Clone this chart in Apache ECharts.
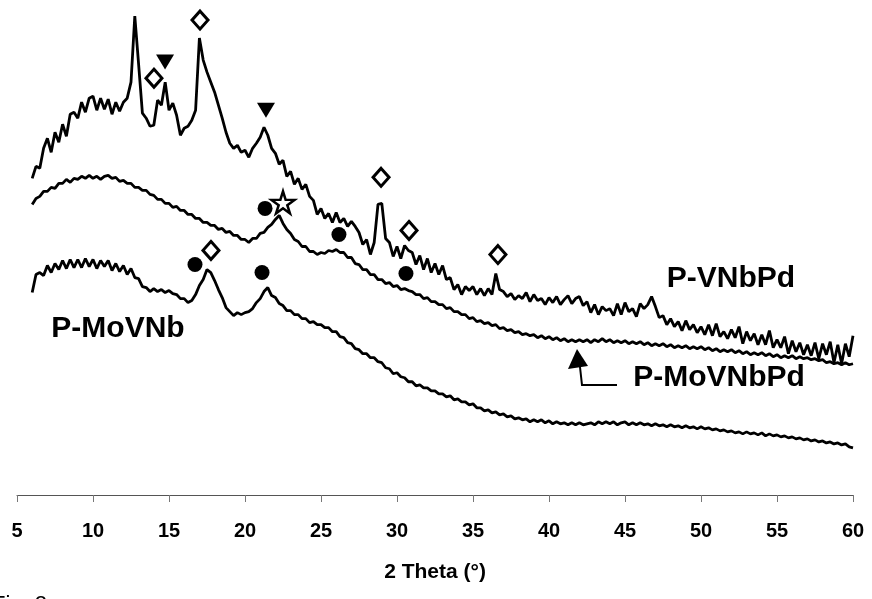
<!DOCTYPE html>
<html><head><meta charset="utf-8">
<script src="https://cdn.jsdelivr.net/npm/echarts@6/dist/echarts.min.js"></script>
<style>html,body{margin:0;padding:0;background:#fff}#c{width:872px;height:599px}</style>
</head><body><div id="c"></div>
<script>
// 2-theta sampling grid (degrees): 6.00 .. 60.00 every 0.25
const thetaStart = 6, thetaStep = 0.25;
const xTicks = [5,10,15,20,25,30,35,40,45,50,55,60];

// P-VNbPd (top trace), 4 values per degree
const pVNbPd = [
 316,328,326,346, 356,342,362,352, 370,358,380,382, 376,392,382,396, // 6-9
 398,384,396,385, 395,380,392,383, 392,396,412,478, 430,381,376,368, // 10-13
 369,394,389,412, 384,391,379,359, 366,368,374,384, 456,434,422,412, // 14-17
 402,389,376,362, 351,346,349,342, 344,337,346,351, 357,367,359,346, // 18-21
 341,330,334,318, 323,310,316,305, 310,298,294,280, 286,276,281,272, // 22-25
 282,272,276,268, 273,268,262,250, 255,240,252,290, 291,256,252,238, // 26-29
 248,236,249,244, 242,230,239,225, 236,222,231,220, 229,215,217,205, // 30-33
 210,200,208,204, 208,200,206,199, 206,200,221,205, 203,198,201,195, // 34-37
 199,196,202,193, 200,194,196,190, 197,192,198,190, 195,199,191,196, // 38-41
 198,189,193,182, 190,180,188,184, 186,179,191,180, 192,183,186,178, // 42-45
 191,186,190,198, 188,177,179,170, 176,168,173,164, 174,165,170,162, // 46-49
 168,160,170,159, 171,158,163,156, 165,157,168,151, 163,154,161,150, // 50-53
 160,150,164,147, 155,147,158,141, 154,143,152,140, 150,139,152,136, // 54-57
 151,140,153,132, 150,131,151,138, 159                              // 58-60
];

// P-MoVNbPd (middle trace)
const pMoVNbPd = [
 290,296,298,303, 303,307,306,311, 311,315,312,316, 315,318,316,319, // 6-9
 316,318,315,318, 319,316,317,313, 314,311,311,307, 307,304,304,300, // 10-13
 299,295,295,291, 291,287,288,284, 284,280,280,276, 276,272,272,269, // 14-17
 269,265,266,262, 263,259,259,255, 255,252,256,256, 261,262,267,270, // 18-21
 275,279,271,265, 261,255,253,248, 248,243,243,240, 242,241,244,243, // 22-25
 245,242,242,237, 237,231,230,225, 225,220,220,215, 215,211,212,208, // 26-29
 209,205,206,204, 203,200,200,196, 197,193,193,190, 190,186,187,183, // 30-33
 183,180,180,176, 177,173,174,171, 172,169,170,166, 167,164,165,162, // 34-37
 163,160,161,159, 160,157,159,156, 158,155,157,154, 156,153,155,153, // 38-41
 155,153,155,152, 155,153,156,153, 155,152,154,152, 154,151,153,151, // 42-45
 153,150,152,149, 151,149,151,148, 150,147,149,147, 149,146,148,146, // 46-49
 148,145,147,144, 146,143,145,143, 145,142,144,141, 143,140,142,140, // 50-53
 142,139,141,138, 140,137,139,137, 139,136,138,136, 137,135,136,134, // 54-57
 135,132,133,131, 132,130,132,130, 131                              // 58-60
];

// P-MoVNb (bottom trace)
const pMoVNb = [
 202,220,222,219, 229,222,231,225, 234,226,235,227, 235,227,236,228, // 6-9
 235,226,234,228, 234,224,231,223, 229,220,226,217, 216,208,207,203, // 10-13
 206,203,205,202, 204,201,200,196, 196,192,194,200, 209,215,225,222, // 14-17
 214,205,197,187, 183,179,182,180, 182,183,186,192, 196,203,207,199, // 18-21
 197,191,189,184, 184,180,180,176, 176,172,173,170, 170,167,167,163, // 22-25
 163,158,157,152, 151,146,145,141, 141,137,137,133, 132,127,126,121, // 26-29
 122,118,117,113, 113,109,110,107, 107,104,104,101, 101,98,99,95,    // 30-33
 96,93,93,90, 91,87,87,84, 85,82,83,80, 81,78,79,76,                 // 34-37
 77,75,76,73, 75,73,75,72, 74,71,73,71, 72,70,72,70,                 // 38-41
 72,70,71,72, 70,73,71,73, 71,73,70,72, 73,70,72,70,                 // 42-45
 72,70,71,69, 71,69,70,68, 70,68,69,67, 69,67,68,66,                 // 46-49
 68,66,67,65, 66,64,65,63, 64,62,63,61, 63,61,62,60,                 // 50-53
 62,59,61,59, 60,58,59,57, 58,56,57,55, 56,54,55,53,                 // 54-57
 54,52,53,51, 52,50,51,48, 47                                        // 58-60
];

// Phase markers [2theta, intensity]
const diamondMarks  = [[17.04,474],[14.01,416],[28.95,317],[30.79,264],[36.64,240],[17.76,244]];
const triangleMarks = [[14.74,432],[21.38,384]];
const circleMarks   = [[21.32,286],[26.18,260],[30.59,221],[16.71,230],[21.12,222]];
const starMarks     = [[22.5,292]];

const seriesNames = ['P-VNbPd','P-MoVNbPd','P-MoVNb'];

function zip(vals){ return vals.map((v,i)=>[thetaStart + i*thetaStep, v]); }

const chart = echarts.init(document.getElementById('c'), null, {renderer:'canvas'});
const FONT = '"Liberation Sans", Arial, sans-serif';
const lineSeries = [pVNbPd, pMoVNbPd, pMoVNb].map((vals,k)=>({
  type:'line', name: seriesNames[k], data: zip(vals), showSymbol:false, symbol:'none',
  lineStyle:{color:'#000', width:2.8}, silent:true, z:2
}));
chart.setOption({
  animation:false,
  backgroundColor:'#fff',
  grid:{left:17, right:19, top:10, bottom:104},
  xAxis:{type:'value', min:5, max:60, interval:5,
    axisLine:{lineStyle:{color:'#555', width:1}},
    axisTick:{length:7, lineStyle:{color:'#777'}},
    splitLine:{show:false},
    axisLabel:{color:'#000', fontSize:20, fontWeight:'bold', fontFamily:FONT, margin:26},
    name:'2 Theta (°)', nameLocation:'middle', nameGap:67,
    nameTextStyle:{color:'#000', fontSize:21, fontWeight:'bold', fontFamily:FONT}
  },
  yAxis:{type:'value', min:0, max:484, show:false},
  series: lineSeries.concat([
    {type:'scatter', data:diamondMarks, symbol:'diamond', symbolSize:[16,18],
     itemStyle:{color:'#fff', borderColor:'#000', borderWidth:3, opacity:1}, z:5, silent:true},
    {type:'scatter', data:triangleMarks, symbol:'path://M0,0 L10,0 L5,8 Z', symbolSize:[18,15],
     itemStyle:{color:'#000', opacity:1}, z:5, silent:true},
    {type:'scatter', data:circleMarks, symbol:'circle', symbolSize:15,
     itemStyle:{color:'#000', opacity:1}, z:5, silent:true},
    {type:'scatter', data:starMarks, symbol:'path://M50,0 L61,35 L98,35 L68,57 L79,91 L50,70 L21,91 L32,57 L2,35 L39,35 Z',
     symbolSize:[23,22], itemStyle:{color:'#fff', borderColor:'#000', borderWidth:2.5, opacity:1}, z:5, silent:true}
  ]),
  graphic:[
    {type:'text', x:731, y:279, style:{text:'P-VNbPd', font:'bold 30px '+FONT, fill:'#000', textAlign:'center', textVerticalAlign:'middle'}},
    {type:'text', x:719, y:378, style:{text:'P-MoVNbPd', font:'bold 30px '+FONT, fill:'#000', textAlign:'center', textVerticalAlign:'middle'}},
    {type:'text', x:118, y:329, style:{text:'P-MoVNb', font:'bold 30px '+FONT, fill:'#000', textAlign:'center', textVerticalAlign:'middle'}},
    {type:'polyline', shape:{points:[[617,385],[582,385],[580,367]]}, style:{stroke:'#000', lineWidth:2, fill:null}},
    {type:'polygon', shape:{points:[[577,349],[568,369],[588,366]]}, style:{fill:'#000'}},
    {type:'text', x:-8, y:594, style:{text:'Fig. 2', font:'22px '+FONT, fill:'#000', textAlign:'left', textVerticalAlign:'top'}}
  ]
});
</script>
</body></html>
